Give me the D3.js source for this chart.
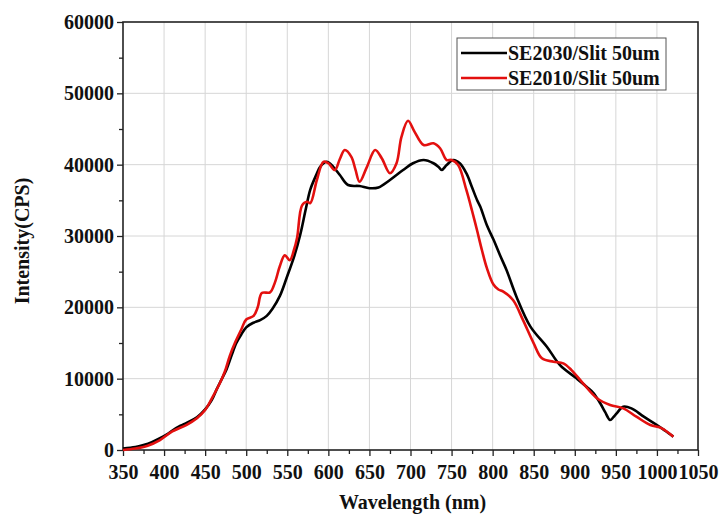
<!DOCTYPE html>
<html>
<head>
<script src="https://d3js.org/d3.v7.min.js"></script>
<style>
  body { margin: 0; background: #fff; }
  text { font-family: "Liberation Serif", "Times New Roman", serif; font-weight: bold; fill: #111; }
  .tick line { stroke: #222; stroke-width: 1.3; }
  .domain { display: none; }
</style>
</head>
<body>
<script>
var width = 720, height = 517;
var margin = {top: 22, right: 22, bottom: 67, left: 123};
var plotW = width - margin.left - margin.right,
    plotH = height - margin.top - margin.bottom;

// SE2030/Slit 50um (black)
var blackWl = [350,365,375,385,395,405,411,420,428,440,450,458,464,470,476,482,488,494,500,508,517,525,532,541,550,558,566,572,578,585,590,598,606,614,624,638,650,661,675,691,703,716,728,734,738,744,752,760,768,775,781,785,793,801,809,817,829,846,866,882,902,915,923,931,937,943,947,951,959,969,984,1000,1010,1020];
var blackI = [200,400,700,1100,1650,2300,2800,3400,3850,4600,5700,7000,8500,9900,11300,13200,15000,16200,17200,17800,18200,18800,19800,21600,24400,27000,30300,33500,36500,38500,39700,40400,39700,38550,37150,37000,36700,36800,37850,39250,40200,40650,40200,39700,39250,39950,40650,40200,38800,36800,35050,34100,31500,29500,27300,25200,21500,17300,14480,11900,10050,8800,7950,6550,5300,4200,4600,5140,6070,5840,4670,3500,2700,1870];

// SE2010/Slit 50um (red)
var redWl = [350,365,380,395,410,427,440,450,458,468,474,480,487,494,500,509,514,519,529,535,541,547,553,558,562,568,574,578,586,594,600,608,614,620,628,633,638,647,657,665,675,683,689,697,705,716,728,736,744,750,758,768,775,781,787,793,801,807,813,825,837,850,860,874,886,896,910,927,943,959,975,992,1006,1020];
var redI = [0,200,600,1400,2600,3500,4460,5600,7200,9400,11000,13200,15200,16900,18300,18800,20000,22000,22100,23500,25800,27300,26600,28000,29800,34300,34800,34600,37850,40400,40200,39250,40800,42050,41100,39300,37600,39700,42050,40900,38800,40200,43900,46150,44600,42750,43000,42300,40650,40650,39950,36450,33500,30800,28000,25500,23200,22500,22200,21000,18200,14950,12850,12380,12150,11200,9350,7250,6300,5840,4670,3500,3040,1870];

var xTicks = d3.range(350, 1051, 50);
var yTicks = d3.range(0, 60001, 10000);
var seriesNames = ["SE2030/Slit 50um", "SE2010/Slit 50um"];
var seriesColors = ["#000000", "#e3100f"];

var svg = d3.select("body").append("svg")
    .attr("width", width)
    .attr("height", height);

var g = svg.append("g")
    .attr("transform", "translate(" + margin.left + "," + margin.top + ")");

var x = d3.scaleLinear().domain([350, 1050]).range([0, plotW]);
var y = d3.scaleLinear().domain([0, 60000]).range([plotH, 0]);

// grid
g.append("g").selectAll("line").data(xTicks.slice(1, -1)).enter().append("line")
    .attr("x1", d => x(d)).attr("x2", d => x(d))
    .attr("y1", 0).attr("y2", plotH)
    .attr("stroke", "#d6d6d6").attr("stroke-width", 1);
g.append("g").selectAll("line").data(yTicks.slice(1, -1)).enter().append("line")
    .attr("y1", d => y(d)).attr("y2", d => y(d))
    .attr("x1", 0).attr("x2", plotW)
    .attr("stroke", "#d6d6d6").attr("stroke-width", 1);

// minor ticks
g.append("g").attr("transform", "translate(0," + plotH + ")")
    .call(d3.axisBottom(x).tickValues(d3.range(375, 1050, 50)).tickSize(4).tickFormat(""));
g.append("g")
    .call(d3.axisLeft(y).tickValues(d3.range(5000, 60000, 10000)).tickSize(4).tickFormat(""));

// major axes
var xAxis = g.append("g").attr("transform", "translate(0," + plotH + ")")
    .call(d3.axisBottom(x).tickValues(xTicks).tickSize(6).tickPadding(9).tickFormat(d3.format("d")));
xAxis.selectAll("text").style("font-size", "20px");

var yAxis = g.append("g")
    .call(d3.axisLeft(y).tickValues(yTicks).tickSize(6).tickPadding(3).tickFormat(d3.format("d")));
yAxis.selectAll("text").style("font-size", "20px");

// frame
g.append("rect")
    .attr("width", plotW).attr("height", plotH)
    .attr("fill", "none").attr("stroke", "#222").attr("stroke-width", 1.6);

// lines
var line = d3.line()
    .x(d => x(d[0]))
    .y(d => y(d[1]))
    .curve(d3.curveCatmullRom.alpha(0.5));

var blackData = blackWl.map((w, i) => [w, blackI[i]]);
var redData = redWl.map((w, i) => [w, redI[i]]);

g.append("path").datum(blackData)
    .attr("d", line).attr("fill", "none")
    .attr("stroke", seriesColors[0]).attr("stroke-width", 2.6);
g.append("path").datum(redData)
    .attr("d", line).attr("fill", "none")
    .attr("stroke", seriesColors[1]).attr("stroke-width", 2.6);

// axis titles
svg.append("text")
    .attr("x", margin.left + plotW / 2 + 2)
    .attr("y", 509)
    .attr("text-anchor", "middle")
    .style("font-size", "20px")
    .text("Wavelength (nm)");

svg.append("text")
    .attr("transform", "translate(29," + 241 + ") rotate(-90)")
    .attr("text-anchor", "middle")
    .style("font-size", "20px")
    .text("Intensity(CPS)");

// legend
var legend = svg.append("g").attr("transform", "translate(457,38)");
legend.append("rect")
    .attr("width", 209).attr("height", 52)
    .attr("fill", "#fff").attr("stroke", "#555").attr("stroke-width", 1);
seriesNames.forEach(function(name, i) {
  var ly = 15 + i * 25;
  legend.append("line")
    .attr("x1", 4).attr("x2", 50).attr("y1", ly).attr("y2", ly)
    .attr("stroke", seriesColors[i]).attr("stroke-width", 2.6);
  legend.append("text")
    .attr("x", 51).attr("y", ly).attr("dy", "0.35em")
    .style("font-size", "20px")
    .text(name);
});
</script>
</body>
</html>
